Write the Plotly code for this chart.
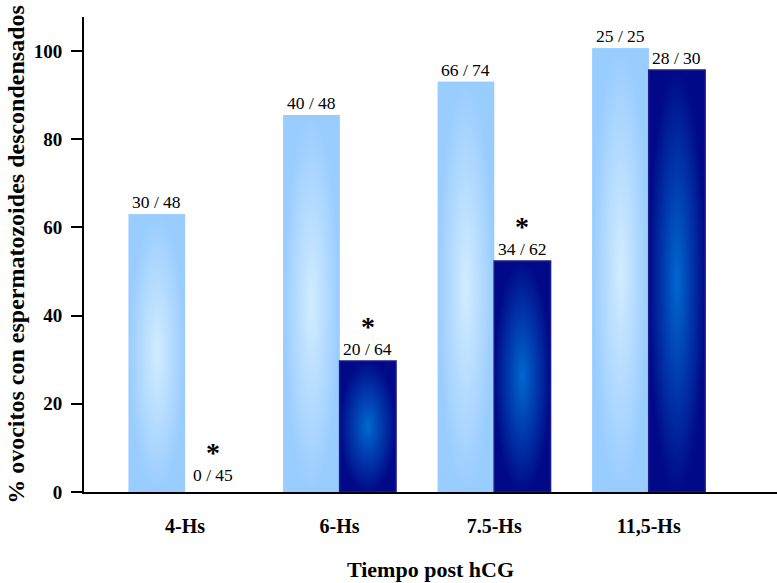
import plotly.graph_objects as go

categories = ["4-Hs", "6-Hs", "7.5-Hs", "11,5-Hs"]
light_values = [63.0, 85.5, 93.0, 100.6]
dark_values = [0.0, 29.7, 52.4, 95.7]
light_labels = ["30 / 48", "40 / 48", "66 / 74", "25 / 25"]
dark_labels = ["0 / 45", "20 / 64", "34 / 62", "28 / 30"]
dark_significant = [True, True, True, False]
y_ticks = [0, 20, 40, 60, 80, 100]

BARGAP = 0.27
BW = (1 - BARGAP) / 2
SERIF = "Liberation Serif"

LIGHT_EDGE = "#99ccff"
LIGHT_CENTER = "#d2ecff"
DARK_EDGE = "#000a88"
DARK_CENTER = "#0068d0"

xs = list(range(len(categories)))

fig = go.Figure()
fig.add_trace(go.Bar(x=xs, y=light_values, marker=dict(color=LIGHT_EDGE, line=dict(width=0)),
                     name="light", showlegend=False))
fig.add_trace(go.Bar(x=xs, y=dark_values, marker=dict(color=DARK_EDGE, line=dict(width=0)),
                     name="dark", showlegend=False))

# gradient overlays computed from the same data
for i, v in enumerate(light_values):
    x0, x1 = i - BW, i
    fig.add_trace(go.Scatter(x=[x0, x0, x1, x1, x0], y=[0, v, v, 0, 0], mode="lines",
                             fill="toself", line=dict(width=0, color=LIGHT_EDGE),
                             fillgradient=dict(type="radial", colorscale=[[0, LIGHT_CENTER], [1, LIGHT_EDGE]]),
                             hoverinfo="skip", showlegend=False))
for i, v in enumerate(dark_values):
    if v <= 0:
        continue
    x0, x1 = i, i + BW
    fig.add_trace(go.Scatter(x=[x0, x0, x1, x1, x0], y=[0, v, v, 0, 0], mode="lines",
                             fill="toself", line=dict(width=1.5, color="#1c1c8a"),
                             fillgradient=dict(type="radial", colorscale=[[0, DARK_CENTER], [1, DARK_EDGE]]),
                             hoverinfo="skip", showlegend=False))

for i in xs:
    fig.add_annotation(x=i - BW / 2, y=light_values[i], text=light_labels[i], showarrow=False,
                       yanchor="bottom", yshift=0, font=dict(family=SERIF, size=17.5, color="black"))
    fig.add_annotation(x=i + BW / 2, y=dark_values[i], text=dark_labels[i], showarrow=False,
                       yanchor="bottom", yshift=(5 if dark_values[i] == 0 else 0),
                       font=dict(family=SERIF, size=17.5, color="black"))
    if dark_significant[i]:
        fig.add_annotation(x=i + BW / 2, y=dark_values[i], text="<b>*</b>", showarrow=False,
                           yanchor="bottom", yshift=(5 if dark_values[i] == 0 else 0) + 17,
                           font=dict(family=SERIF, size=28, color="black"))

fig.update_layout(
    width=777, height=583,
    margin=dict(l=84, r=0, t=17, b=91, autoexpand=False),
    paper_bgcolor="white", plot_bgcolor="white",
    barmode="group", bargap=BARGAP, bargroupgap=0,
    showlegend=False,
    xaxis=dict(range=[-0.654, 3.83], tickvals=xs, ticktext=categories, showline=True,
               linecolor="black", linewidth=2, ticks="", showgrid=False, zeroline=False,
               automargin=False,
               tickfont=dict(family=SERIF, size=20, color="black", weight="bold"),
               ticklabelstandoff=15,
               title=dict(text="Tiempo post hCG", standoff=26,
                          font=dict(family=SERIF, size=22, color="black", weight="bold"))),
    yaxis=dict(range=[0, 107.7], tickvals=y_ticks, showline=True, linecolor="black", linewidth=2,
               ticks="outside", ticklen=11, tickwidth=2, tickcolor="black", showgrid=False,
               zeroline=False, ticklabelstandoff=5, automargin=False,
               tickfont=dict(family=SERIF, size=19, color="black", weight="bold"),
               title=dict(text="% ovocitos con espermatozoides descondensados", standoff=2,
                          font=dict(family=SERIF, size=24, color="black", weight="bold"))),
)

fig.write_html("out.html", config={"displayModeBar": False},
               post_script="document.body.style.margin='0';document.body.style.overflow='hidden';")
